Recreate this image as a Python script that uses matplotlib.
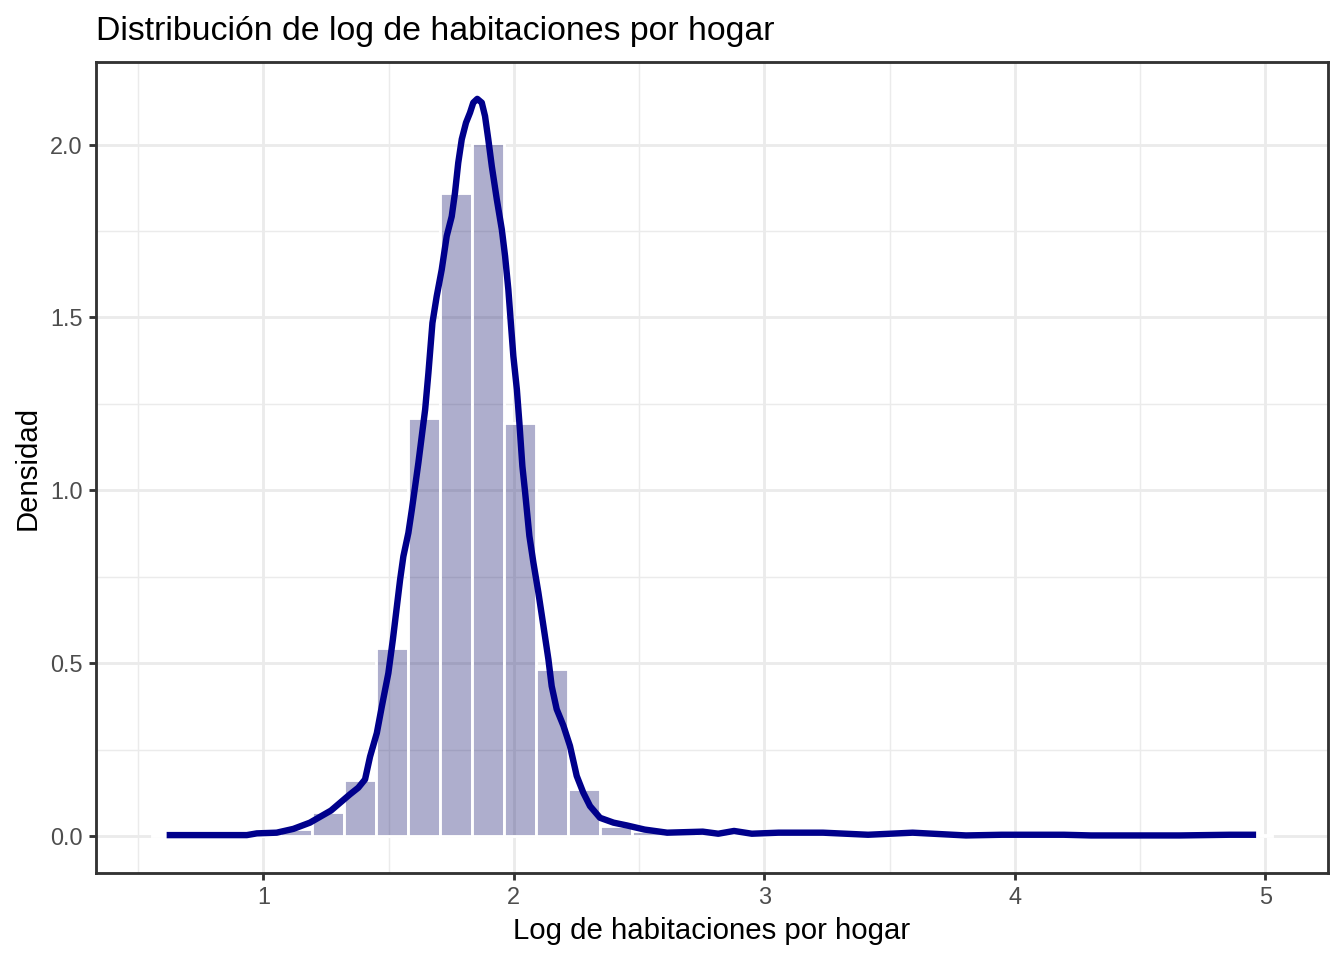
import numpy as np
import matplotlib
matplotlib.use("Agg")
import matplotlib.pyplot as plt

# ---------------- data ----------------
title = "Distribución de log de habitaciones por hogar"
x_label = "Log de habitaciones por hogar"
y_label = "Densidad"

hist_start = 0.556
bin_width = 0.1277
hist_density = [0.002, 0.002, 0.003, 0.008, 0.020, 0.070, 0.162, 0.544, 1.210, 1.861,
                2.003, 1.196, 0.483, 0.136, 0.029, 0.015, 0.008, 0.008, 0.006, 0.008,
                0.006, 0.005, 0.005, 0.004, 0.004, 0.004, 0.003, 0.003, 0.003, 0.003,
                0.002, 0.002, 0.002, 0.002, 0.003]

kde_x = [0.614, 0.934, 0.974, 1.053, 1.120, 1.186, 1.270, 1.346, 1.379, 1.406,
         1.426, 1.453, 1.473, 1.499, 1.517, 1.533, 1.546, 1.559, 1.579, 1.593,
         1.606, 1.619, 1.646, 1.659, 1.675, 1.692, 1.712, 1.732, 1.752, 1.765,
         1.778, 1.792, 1.809, 1.825, 1.838, 1.854, 1.872, 1.885, 1.898, 1.912,
         1.932, 1.952, 1.965, 1.978, 1.988, 1.998, 2.012, 2.022, 2.034, 2.045,
         2.062, 2.078, 2.098, 2.118, 2.138, 2.151, 2.171, 2.198, 2.224, 2.251,
         2.277, 2.304, 2.344, 2.398, 2.451, 2.522, 2.612, 2.754, 2.816, 2.879,
         2.950, 3.057, 3.234, 3.414, 3.592, 3.805, 3.948, 4.196, 4.304, 4.659,
         4.857, 4.963]
kde_y = [0.003, 0.003, 0.008, 0.010, 0.021, 0.039, 0.074, 0.121, 0.140, 0.164,
         0.230, 0.298, 0.375, 0.471, 0.568, 0.664, 0.742, 0.809, 0.877, 0.945,
         1.012, 1.080, 1.234, 1.340, 1.484, 1.561, 1.638, 1.735, 1.792, 1.860,
         1.947, 2.015, 2.063, 2.092, 2.121, 2.132, 2.121, 2.082, 2.015, 1.937,
         1.841, 1.754, 1.677, 1.581, 1.484, 1.388, 1.292, 1.196, 1.070, 0.994,
         0.868, 0.791, 0.704, 0.608, 0.511, 0.434, 0.367, 0.319, 0.261, 0.174,
         0.126, 0.087, 0.053, 0.039, 0.031, 0.019, 0.010, 0.013, 0.007, 0.015,
         0.007, 0.010, 0.010, 0.004, 0.010, 0.002, 0.004, 0.004, 0.002, 0.002,
         0.004, 0.004]

x_major = [1, 2, 3, 4, 5]
x_minor = [0.5, 1.5, 2.5, 3.5, 4.5]
y_major = [0.0, 0.5, 1.0, 1.5, 2.0]
y_minor = [0.25, 0.75, 1.25, 1.75]
y_tick_labels = ["0.0", "0.5", "1.0", "1.5", "2.0"]

# ---------------- figure ----------------
plt.rcParams['font.family'] = ['Liberation Sans', 'DejaVu Sans']
fig = plt.figure(figsize=(7, 5), dpi=192)
W, H = 1344, 960
left, right, top, bottom = 96, 1328, 62, 873
ax = fig.add_axes([left / W, 1 - bottom / H, (right - left) / W, (bottom - top) / H])

n_bins = len(hist_density)
edges = hist_start + bin_width * np.arange(n_bins)
ax.bar(edges, hist_density, width=bin_width, align='edge',
       color=(25 / 255, 25 / 255, 112 / 255, 0.35), edgecolor='white',
       linewidth=1.07, zorder=2)
ax.plot(kde_x, kde_y, color='#00008B', linewidth=2.4, solid_joinstyle='round',
        solid_capstyle='butt', zorder=3)

ax.set_xlim(0.332, 5.250)
ax.set_ylim(-0.1066, 2.2386)

ax.set_xticks(x_major)
ax.set_xticks(x_minor, minor=True)
ax.set_yticks(y_major)
ax.set_yticklabels(y_tick_labels)
ax.set_yticks(y_minor, minor=True)

ax.set_axisbelow(True)
ax.grid(which='major', color='#EBEBEB', linewidth=1.07, zorder=0)
ax.grid(which='minor', color='#EBEBEB', linewidth=0.53, zorder=0)

for s in ax.spines.values():
    s.set_color('#333333')
    s.set_linewidth(1.07)

ax.tick_params(which='major', length=2.75, width=1.07, color='#333333',
               labelsize=8.8, labelcolor='#4D4D4D', pad=2.2)
ax.tick_params(which='minor', length=0)

fig.text(left / W, 1 - 40 / H, title, fontsize=12.7, color='black',
         ha='left', va='baseline')
fig.text((left + right) / 2 / W, 1 - 931 / H, x_label, fontsize=11, color='black',
         ha='center', va='center')
fig.text(28 / W, 1 - (top + bottom) / 2 / H, y_label, fontsize=11, color='black',
         ha='center', va='center', rotation=90)

fig.savefig("out.png", dpi=192)
